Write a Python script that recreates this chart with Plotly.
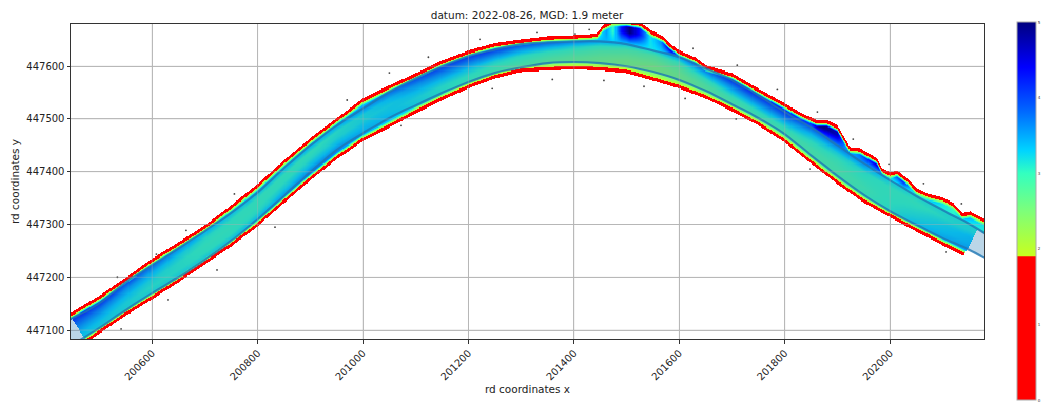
import numpy as np
import plotly.graph_objects as go

# ---- readings (RD coordinates, depth in metres) ----
stations_x = [200400, 200450, 200500, 200550, 200600, 200650, 200700, 200750, 200800, 200850,
              200900, 200950, 201000, 201050, 201100, 201150, 201200, 201250, 201300, 201350,
              201400, 201450, 201500, 201550, 201600, 201650, 201700, 201750, 201800, 201850,
              201900, 201950, 202000, 202050, 202100, 202150, 202200]
fairway_upper_y = [447098, 447123, 447151, 447191, 447223, 447255, 447288, 447322, 447361, 447407,
                   447450, 447488, 447520, 447551, 447577, 447600, 447619, 447632, 447642, 447645,
                   447647, 447647, 447642, 447630, 447617, 447596, 447574, 447545, 447513, 447484,
                   447450, 447416, 447384, 447354, 447327, 447301, 447270]
fairway_lower_y = [447045, 447073, 447104, 447138, 447170, 447200, 447233, 447269, 447310, 447354,
                   447399, 447441, 447473, 447502, 447526, 447549, 447570, 447587, 447598, 447606,
                   447608, 447606, 447600, 447589, 447574, 447553, 447528, 447502, 447471, 447431,
                   447392, 447356, 447325, 447299, 447274, 447252, 447225]
bank_lower_y = [447030, 447060, 447094, 447128, 447159, 447191, 447225, 447259, 447297, 447341,
                447384, 447424, 447458, 447484, 447511, 447536, 447558, 447577, 447589, 447592,
                447594, 447592, 447587, 447573, 447558, 447539, 447515, 447488, 447456, 447416,
                447377, 447342, 447314, 447287, 447261, 447236, 447210]
bank_upper_x = [200400, 200450, 200500, 200550, 200600, 200650, 200700, 200750, 200800, 200850,
                200900, 200950, 201000, 201050, 201100, 201150, 201200, 201250, 201300, 201350,
                201400, 201431, 201444, 201456, 201473, 201500, 201526, 201550, 201569, 201581,
                201600, 201630, 201650, 201700, 201750, 201800, 201829, 201861, 201880, 201900,
                201911, 201924, 201943, 201956, 201975, 201985, 202000, 202013, 202032, 202050,
                202074, 202100, 202120, 202137, 202152, 202165, 202178, 202200]
bank_upper_y = [447106, 447136, 447166, 447200, 447236, 447267, 447299, 447337, 447377, 447422,
                447464, 447502, 447539, 447564, 447587, 447611, 447630, 447644, 447651, 447657,
                447659, 447661, 447663, 447678, 447687, 447687, 447683, 447666, 447657, 447644,
                447630, 447617, 447602, 447587, 447558, 447530, 447513, 447498, 447498, 447488,
                447469, 447447, 447445, 447437, 447426, 447407, 447399, 447403, 447388, 447369,
                447358, 447352, 447341, 447322, 447325, 447318, 447312, 447303]
# depth across the fairway: at the lower line, quarter, middle, three quarter, upper line
depth_at_lower = [3.2, 3.2, 3.2, 3.15, 3.15, 3.2, 3.25, 3.3, 3.35, 3.55, 3.7, 3.65, 3.45, 3.35, 3.2, 3.05, 2.9, 2.8, 2.7,
                  2.6, 2.55, 2.5, 2.45, 2.45, 2.5, 2.65, 2.75, 2.8, 2.8, 2.8, 2.8, 2.9, 3.05, 3.3, 3.45, 3.55, 3.55]
depth_at_q1 = [3.35, 3.35, 3.25, 3.15, 3.05, 3.05, 3.0, 3.0, 3.05, 3.2, 3.3, 3.3, 3.3, 3.25, 3.15, 3.05, 3.0, 2.9, 2.85,
               2.75, 2.65, 2.55, 2.45, 2.4, 2.5, 2.7, 2.85, 2.95, 2.9, 2.8, 2.8, 2.85, 3.0, 3.15, 3.3, 3.4, 3.4]
depth_at_mid = [3.6, 3.6, 3.45, 3.3, 3.15, 3.05, 2.95, 2.95, 2.95, 3.0, 3.05, 3.1, 3.15, 3.2, 3.3, 3.3, 3.25, 3.15, 3.05,
                2.95, 2.85, 2.7, 2.6, 2.55, 2.65, 2.95, 3.25, 3.35, 3.25, 3.0, 2.9, 2.95, 2.95, 3.05, 3.2, 3.35, 3.35]
depth_at_q3 = [3.9, 3.9, 3.75, 3.6, 3.4, 3.2, 3.05, 3.0, 2.95, 2.95, 2.95, 3.05, 3.15, 3.35, 3.6, 3.7, 3.7, 3.65, 3.5,
               3.35, 3.15, 2.95, 2.8, 2.7, 2.95, 3.4, 3.7, 3.8, 3.7, 3.3, 3.15, 3.05, 2.95, 2.95, 3.05, 3.15, 3.15]
depth_at_upper = [4.3, 4.3, 4.25, 4.1, 3.85, 3.6, 3.4, 3.3, 3.3, 3.35, 3.4, 3.45, 3.6, 3.8, 4.1, 4.2, 4.25, 4.2, 4.1,
                  3.9, 3.7, 3.45, 3.3, 3.2, 3.5, 4.0, 4.3, 4.3, 4.2, 3.9, 3.7, 3.6, 3.2, 3.1, 3.1, 3.1, 3.1]
# depth in the strip between the upper fairway line and the upper bank (scour holes)
strip_x = [200400, 200600, 201000, 201400, 201431, 201450, 201462, 201475, 201490, 201506, 201525, 201545, 201565,
           201585, 201600, 201630, 201650, 201750, 201850, 201861, 201875, 201900, 201915, 201935, 201955, 201975,
           201985, 202000, 202012, 202025, 202040, 202060, 202080, 202100, 202120, 202140, 202160, 202200]
strip_depth = [3.6, 3.2, 3.3, 3.5, 3.1, 3.2, 3.55, 3.0, 4.3, 5.0, 4.3, 3.2, 3.6,
               4.8, 4.4, 3.9, 3.8, 4.0, 4.2, 4.9, 5.0, 4.7, 3.6, 3.6, 4.1, 4.6,
               4.1, 3.2, 3.8, 4.2, 3.4, 3.0, 3.5, 3.2, 3.0, 3.6, 3.3, 3.0]
# survey ends (two points on each cut across the fairway)
start_cut_x = [200446, 200473]
start_cut_y = [447125, 447083]
end_cut_x = [202165, 202148]
end_cut_y = [447289, 447257]
# isolated soundings outside the river
stray_x = [200541, 200630, 200723, 200833, 200756, 200664, 200608, 200534, 200970, 201050, 201124, 201222, 201330,
           201429, 201402, 201072, 201245, 201359, 201457, 201533, 201626, 201710, 201786, 201862, 201930, 201998,
           202063, 202135, 202106, 201848, 201708, 201611]
stray_y = [447102, 447157, 447214, 447295, 447358, 447289, 447244, 447200, 447536, 447587, 447617, 447651, 447664,
           447670, 447661, 447488, 447558, 447575, 447573, 447562, 447634, 447602, 447556, 447513, 447462, 447414,
           447377, 447339, 447248, 447405, 447500, 447539]
x_ticks = [200600, 200800, 201000, 201200, 201400, 201600, 201800, 202000]
y_ticks = [447100, 447200, 447300, 447400, 447500, 447600]
cbar_ticks = [0, 1, 2, 3, 4, 5]
MGD = 1.9
X_RANGE = [200446, 202178]
Y_RANGE = [447083, 447680]

colorscale = [[0, "#ff0000"], [MGD / 5 - 0.0005, "#ff0000"], [MGD / 5, "#c8ff1e"], [0.5, "#7dff7a"],
              [0.6, "#33ffc0"], [0.66, "#00d4ff"], [0.768, "#0064ff"], [0.88, "#0000ff"], [1, "#00007f"]]

# ---- raster the hand-read sections on a regular grid ----
xg = np.arange(X_RANGE[0], X_RANGE[1] + 2, 2.0)
yg = np.arange(Y_RANGE[0], Y_RANGE[1] + 2, 2.0)
up = np.interp(xg, stations_x, fairway_upper_y)
lo = np.interp(xg, stations_x, fairway_lower_y)
bot = np.interp(xg, stations_x, bank_lower_y)
top = np.interp(xg, bank_upper_x, bank_upper_y)
strip = np.interp(xg, strip_x, strip_depth)
sections = [np.interp(xg, stations_x, c) for c in
            (depth_at_lower, depth_at_q1, depth_at_mid, depth_at_q3, depth_at_upper)]
fractions = [0, 0.25, 0.5, 0.75, 1]
RED_BAND = 6.5
RAMP = 6.0
z = np.full((yg.size, xg.size), np.nan)
for i, x in enumerate(xg):
    col = [s[i] for s in sections]
    t = (yg - lo[i]) / (up[i] - lo[i])
    inner = np.interp(t, fractions, col)
    above = np.clip((yg - up[i]) / np.maximum(top[i] - up[i], 1.0) / 0.5, 0, 1)
    inner = np.where(yg > up[i], col[-1] + (strip[i] - col[-1]) * above, inner)
    edge = np.minimum(top[i] - yg, yg - bot[i])
    ramp = np.clip((edge - RED_BAND) / RAMP, 0, 1)
    vals = np.where(edge < RED_BAND, 1.0, MGD + (inner - MGD) * ramp)
    vals = np.where(edge < 0, np.nan, vals)
    xs = start_cut_x[0] + (yg - start_cut_y[0]) * (start_cut_x[1] - start_cut_x[0]) / (start_cut_y[1] - start_cut_y[0])
    xe = end_cut_x[0] + (yg - end_cut_y[0]) * (end_cut_x[1] - end_cut_x[0]) / (end_cut_y[1] - end_cut_y[0])
    vals = np.where((yg < up[i]) & ((x < xs) | (x > xe)), np.nan, vals)
    z[:, i] = vals

fig = go.Figure()
fig.add_trace(go.Heatmap(
    x=xg, y=yg, z=np.round(z, 2), zmin=0, zmax=5, colorscale=colorscale, hoverinfo="skip",
    colorbar=dict(x=1.0361, xanchor="left", xpad=0, ypad=0, thickness=19, lenmode="pixels", len=378,
                  y=0.406, yanchor="middle", tickvals=cbar_ticks, ticklen=2, tickwidth=1, tickcolor="#555",
                  tickfont=dict(size=4, family="DejaVu Sans", color="#333"), outlinecolor="#aaa", outlinewidth=1),
))
for name, ys in (("upper", fairway_upper_y), ("lower", fairway_lower_y)):
    fig.add_trace(go.Scatter(x=stations_x, y=ys, mode="lines", name=name, hoverinfo="skip", showlegend=False,
                             line=dict(color="rgba(31,119,180,0.8)", width=2.2, shape="spline")))
fig.add_trace(go.Scatter(x=stray_x, y=stray_y, mode="markers", hoverinfo="skip", showlegend=False,
                         marker=dict(size=1.8, color="#444")))

shapes = []
poly = list(zip(stations_x, fairway_upper_y)) + list(zip(stations_x[::-1], fairway_lower_y[::-1]))
path = "M " + " L ".join(f"{a},{b}" for a, b in poly) + " Z"
shapes.append(dict(type="path", path=path, xref="x", yref="y", layer="above",
                   fillcolor="rgba(31,119,180,0.3)", line=dict(width=0)))
GRID_OVER = "rgba(176,176,176,0.4)"
for v in x_ticks:
    shapes.append(dict(type="line", xref="x", yref="paper", x0=v, x1=v, y0=0, y1=1, layer="above",
                       line=dict(color=GRID_OVER, width=1)))
for v in y_ticks:
    shapes.append(dict(type="line", xref="paper", yref="y", x0=0, x1=1, y0=v, y1=v, layer="above",
                       line=dict(color=GRID_OVER, width=1)))

axis = dict(showgrid=True, gridcolor="#bdbdbd", gridwidth=1, zeroline=False, showline=True, mirror=True,
            linecolor="#333", linewidth=1, ticks="outside", ticklen=3.5, tickwidth=1, tickcolor="#333",
            tickfont=dict(size=10, family="DejaVu Sans", color="#222"), tickformat="d")
fig.update_layout(
    width=1042, height=403, margin=dict(l=71, r=58, t=24, b=64, autoexpand=False),
    paper_bgcolor="white", plot_bgcolor="white",
    title=dict(text="datum: 2022-08-26, MGD: 1.9 meter", x=527 / 1042, xanchor="center", y=1 - 15 / 403,
               yanchor="middle", font=dict(size=10.5, family="DejaVu Sans", color="#222")),
    xaxis=dict(axis, range=X_RANGE, tickvals=x_ticks, tickangle=-45,
               title=dict(text="rd coordinates x", standoff=4, font=dict(size=10.5, family="DejaVu Sans", color="#222"))),
    yaxis=dict(axis, range=Y_RANGE, tickvals=y_ticks,
               title=dict(text="rd coordinates y", standoff=4, font=dict(size=10.5, family="DejaVu Sans", color="#222"))),
    shapes=shapes,
)
fig.write_html("out.html", config={"displayModeBar": False},
               post_script="document.body.style.margin='0';document.body.style.overflow='hidden';")
